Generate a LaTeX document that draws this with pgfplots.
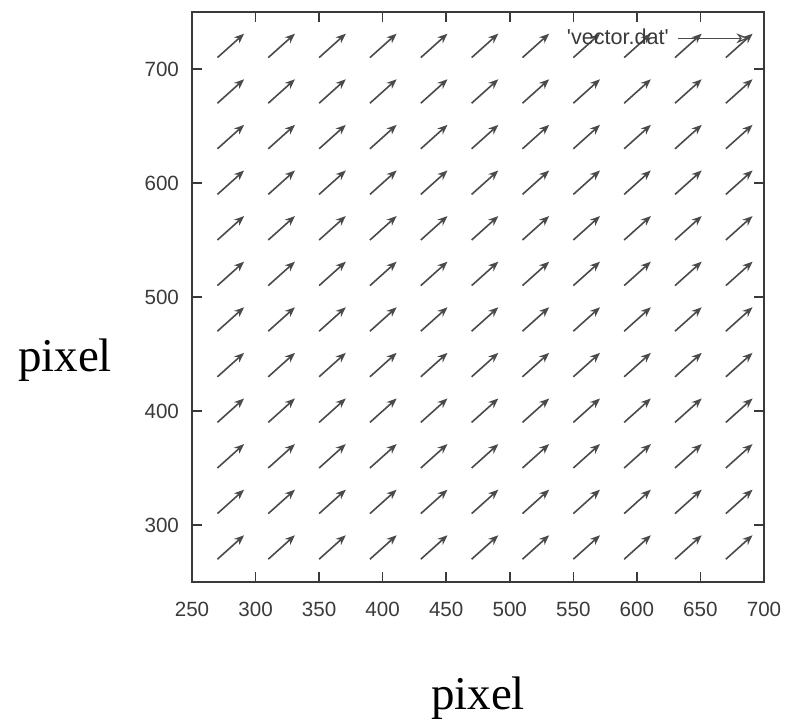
\documentclass[border=0pt]{standalone}
\usepackage{pgfplots}
\pgfplotsset{compat=1.18}
\usepackage{pgfplotstable}
\usetikzlibrary{arrows.meta}
\usepackage{fontspec}
\setmainfont{Liberation Serif}
\newfontfamily\ticksans{Liberation Sans}
\definecolor{axgray}{HTML}{3A3A3A}
\definecolor{arrgray}{HTML}{4A4A4A}
\pgfplotstableread{
x y u v
270 270 21 21
310 270 21 21
350 270 21 21
390 270 21 21
430 270 21 21
470 270 21 21
510 270 21 21
550 270 21 21
590 270 21 21
630 270 21 21
670 270 21 21
270 310 21 21
310 310 21 21
350 310 21 21
390 310 21 21
430 310 21 21
470 310 21 21
510 310 21 21
550 310 21 21
590 310 21 21
630 310 21 21
670 310 21 21
270 350 21 21
310 350 21 21
350 350 21 21
390 350 21 21
430 350 21 21
470 350 21 21
510 350 21 21
550 350 21 21
590 350 21 21
630 350 21 21
670 350 21 21
270 390 21 21
310 390 21 21
350 390 21 21
390 390 21 21
430 390 21 21
470 390 21 21
510 390 21 21
550 390 21 21
590 390 21 21
630 390 21 21
670 390 21 21
270 430 21 21
310 430 21 21
350 430 21 21
390 430 21 21
430 430 21 21
470 430 21 21
510 430 21 21
550 430 21 21
590 430 21 21
630 430 21 21
670 430 21 21
270 470 21 21
310 470 21 21
350 470 21 21
390 470 21 21
430 470 21 21
470 470 21 21
510 470 21 21
550 470 21 21
590 470 21 21
630 470 21 21
670 470 21 21
270 510 21 21
310 510 21 21
350 510 21 21
390 510 21 21
430 510 21 21
470 510 21 21
510 510 21 21
550 510 21 21
590 510 21 21
630 510 21 21
670 510 21 21
270 550 21 21
310 550 21 21
350 550 21 21
390 550 21 21
430 550 21 21
470 550 21 21
510 550 21 21
550 550 21 21
590 550 21 21
630 550 21 21
670 550 21 21
270 590 21 21
310 590 21 21
350 590 21 21
390 590 21 21
430 590 21 21
470 590 21 21
510 590 21 21
550 590 21 21
590 590 21 21
630 590 21 21
670 590 21 21
270 630 21 21
310 630 21 21
350 630 21 21
390 630 21 21
430 630 21 21
470 630 21 21
510 630 21 21
550 630 21 21
590 630 21 21
630 630 21 21
670 630 21 21
270 670 21 21
310 670 21 21
350 670 21 21
390 670 21 21
430 670 21 21
470 670 21 21
510 670 21 21
550 670 21 21
590 670 21 21
630 670 21 21
670 670 21 21
270 710 21 21
310 710 21 21
350 710 21 21
390 710 21 21
430 710 21 21
470 710 21 21
510 710 21 21
550 710 21 21
590 710 21 21
630 710 21 21
670 710 21 21
}\vectordata
\begin{document}
\begin{tikzpicture}
\begin{axis}[
  at={(0,0)}, anchor=south west,
  scale only axis,
  width=286pt, height=285pt,
  xmin=250, xmax=700, ymin=250, ymax=750,
  xtick={250,300,...,700},
  ytick={300,400,...,700},
  tick align=inside,
  major tick length=5pt,
  axis line style={axgray, line width=0.9pt},
  every tick/.style={axgray, line width=0.8pt},
  tick label style={font=\fontsize{10.3}{12}\selectfont\ticksans, text=axgray},
  xticklabel style={yshift=-6.5pt},
  yticklabel style={xshift=-3pt},
  /pgf/number format/assume math mode=true,
  /pgf/number format/1000 sep={},
  legend style={at={(rel axis cs:0.985,0.985)}, anchor=north east, draw=none, fill=none,
    font=\fontsize{10.8}{12}\selectfont\ticksans, text=axgray, column sep=2.5pt},
  legend plot pos=right,
]
\addplot[arrgray, line width=0.8pt, -{Stealth[length=5pt,width=4pt]},
  quiver={u=\thisrow{u}, v=\thisrow{v}},
  legend image code/.code={\draw[arrgray, line width=0.6pt, -{Stealth[length=6pt,width=5pt,open]}] (0pt,0pt) -- (35pt,0pt);}
  ] table[x=x, y=y] {\vectordata};
\addlegendentry{'vector.dat'}
\end{axis}
\node[font=\fontsize{23.5}{28}\selectfont] at (-63.5pt,111pt) {pixel};
\node[font=\fontsize{23.5}{28}\selectfont] at (143pt,-58pt) {pixel};
\pgfresetboundingbox
\path[use as bounding box] (-96pt,-71.5pt) rectangle (298.5pt,291pt);
\end{tikzpicture}
\end{document}
